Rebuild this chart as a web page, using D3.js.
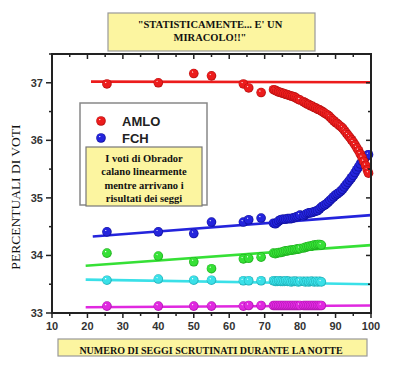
<!DOCTYPE html>
<html>
<head>
<meta charset="utf-8">
<script src="https://cdn.jsdelivr.net/npm/d3@7"></script>
<style>
  body { margin: 0; background: #fff; }
  svg { display: block; }
</style>
</head>
<body>
<script>
// seats counted (x) -- first sparse readings, then the dense night run
var seggiBase = [25.5, 40, 50, 55, 64, 65.5, 69];
var seggiNotte = [72.5, 73, 73.5, 74, 74.5, 75, 75.5, 76, 76.5, 77, 77.5, 78, 78.5, 79, 79.5,
  80, 81, 81.5, 82, 82.5, 83, 83.5, 84, 84.5, 85, 85.5, 86];
var seggiFine = [86.5, 87, 87.5, 88, 88.5, 89, 89.5, 90, 90.5, 91, 91.5, 92, 92.5, 93, 93.5,
  94, 94.5, 95, 95.5, 96, 96.5, 97, 97.5, 98, 98.5, 99, 99.3];

// AMLO (red)
var amloBase = [36.98, 37.0, 37.16, 37.12, 36.98, 36.91, 36.83];
var amloNotte = [36.88, 36.87, 36.85, 36.84, 36.83, 36.82, 36.81, 36.80, 36.79, 36.78, 36.77, 36.76,
  36.75, 36.73, 36.71, 36.70, 36.67, 36.65, 36.63, 36.62, 36.60, 36.59, 36.57, 36.56, 36.54, 36.53, 36.51];
var amloFine = [36.49, 36.47, 36.45, 36.43, 36.40, 36.37, 36.34, 36.31, 36.29, 36.26, 36.24, 36.21,
  36.17, 36.13, 36.09, 36.05, 36.01, 35.97, 35.92, 35.87, 35.82, 35.76, 35.70, 35.63, 35.56, 35.48, 35.43];

// FCH (blue)
var fchBase = [34.41, 34.41, 34.38, 34.58, 34.58, 34.62, 34.65];
var fchNotte = [34.56, 34.55, 34.57, 34.60, 34.62, 34.63, 34.63, 34.63, 34.64, 34.64, 34.64, 34.65,
  34.66, 34.67, 34.68, 34.70, 34.69, 34.71, 34.73, 34.74, 34.74, 34.75, 34.76, 34.77, 34.78, 34.81, 34.84];
var fchFine = [34.86, 34.88, 34.90, 34.93, 34.96, 34.99, 35.02, 35.05, 35.07, 35.09, 35.12, 35.15,
  35.19, 35.23, 35.27, 35.31, 35.35, 35.39, 35.44, 35.49, 35.54, 35.59, 35.64, 35.68, 35.71, 35.74, 35.75];

// the three minor candidates
var verdeBase = [34.04, 33.99, 33.89, 33.77, 33.94, 33.95, 33.97];
var verdeNotte = [34.04, 34.03, 34.04, 34.05, 34.05, 34.06, 34.07, 34.08, 34.08, 34.09, 34.09, 34.10,
  34.10, 34.11, 34.11, 34.12, 34.13, 34.14, 34.15, 34.16, 34.16, 34.17, 34.18, 34.18, 34.19, 34.19, 34.18];
var cianoBase = [33.57, 33.59, 33.57, 33.57, 33.56, 33.56, 33.56];
var cianoNotte = [33.56, 33.55, 33.55, 33.56, 33.55, 33.55, 33.55, 33.56, 33.55, 33.55, 33.54, 33.55,
  33.55, 33.55, 33.54, 33.55, 33.55, 33.54, 33.55, 33.54, 33.55, 33.55, 33.54, 33.55, 33.54, 33.55, 33.54];
var magentaBase = [33.12, 33.12, 33.12, 33.12, 33.12, 33.13, 33.13];
var magentaNotte = [33.13, 33.13, 33.13, 33.13, 33.13, 33.13, 33.13, 33.13, 33.13, 33.13, 33.13, 33.13,
  33.13, 33.13, 33.13, 33.13, 33.13, 33.13, 33.13, 33.13, 33.13, 33.13, 33.13, 33.13, 33.13, 33.13, 33.13];

// linear fits (start x, end x) and (start y, end y)
var fitAmlo = [[21, 37.02], [100, 37.01]];
var fitFch = [[21.5, 34.33], [100, 34.70]];
var fitVerde = [[19.5, 33.82], [100, 34.18]];
var fitCiano = [[19.5, 33.58], [100, 33.50]];
var fitMagenta = [[19.5, 33.10], [100, 33.13]];

var xTicks = [10, 20, 30, 40, 50, 60, 70, 80, 90, 100];
var yTicks = [33, 34, 35, 36, 37];

var titolo = ["\"STATISTICAMENTE... E' UN", "MIRACOLO!!\""];
var nota = ["I voti di Obrador", "calano linearmente", "mentre arrivano i", "risultati dei seggi"];
var etichettaX = "NUMERO DI SEGGI SCRUTINATI DURANTE LA NOTTE";
var etichettaY = "PERCENTUALI DI VOTI";

var W = 405, H = 366;
var svg = d3.select("body").append("svg").attr("width", W).attr("height", H);

var x = d3.scaleLinear().domain([10, 100]).range([52, 371]);
var y = d3.scaleLinear().domain([33, 37.5]).range([313, 54]);

var zip = function(xs, ys){ return xs.map(function(v, i){ return [v, ys[i]]; }); };

var serie = [
  {nome: "magenta", col: "#e028e0", dark: "#a812a8", fit: fitMagenta,
    pts: zip(seggiBase.concat(seggiNotte), magentaBase.concat(magentaNotte))},
  {nome: "ciano", col: "#3ae0e8", dark: "#1aa8b0", fit: fitCiano,
    pts: zip(seggiBase.concat(seggiNotte), cianoBase.concat(cianoNotte))},
  {nome: "verde", col: "#36e036", dark: "#18a818", fit: fitVerde,
    pts: zip(seggiBase.concat(seggiNotte), verdeBase.concat(verdeNotte))},
  {nome: "blu", col: "#2424dc", dark: "#0c0c98", fit: fitFch,
    pts: zip(seggiBase.concat(seggiNotte, seggiFine), fchBase.concat(fchNotte, fchFine))},
  {nome: "rosso", col: "#ec1c1c", dark: "#b00c0c", fit: fitAmlo,
    pts: zip(seggiBase.concat(seggiNotte, seggiFine), amloBase.concat(amloNotte, amloFine))}
];

// shaded balls
var defs = svg.append("defs");
serie.forEach(function(s){
  var g = defs.append("radialGradient").attr("id", "g-" + s.nome)
    .attr("cx", "50%").attr("cy", "50%").attr("r", "50%")
    .attr("fx", "35%").attr("fy", "32%");
  g.append("stop").attr("offset", "0%").attr("stop-color", "#ffffff");
  g.append("stop").attr("offset", "22%").attr("stop-color", s.col);
  g.append("stop").attr("offset", "75%").attr("stop-color", s.col);
  g.append("stop").attr("offset", "100%").attr("stop-color", s.dark);
});

// fit lines
var line = d3.line().x(function(d){ return x(d[0]); }).y(function(d){ return y(d[1]); });
svg.selectAll(".fit").data(serie).enter().append("path")
  .attr("class", "fit")
  .attr("d", function(d){ return line(d.fit); })
  .attr("stroke", function(d){ return d.col; })
  .attr("stroke-width", 2.6)
  .attr("fill", "none");

// points
serie.forEach(function(s){
  svg.append("g").selectAll("circle").data(s.pts).enter().append("circle")
    .attr("cx", function(d){ return x(d[0]); })
    .attr("cy", function(d){ return y(d[1]); })
    .attr("r", 4.8)
    .attr("fill", "url(#g-" + s.nome + ")");
});

// frame + axes
var ink = "#222";
var ax = svg.append("g").attr("font-family", "Liberation Sans, Arial, sans-serif")
  .attr("font-weight", "bold").attr("font-size", 11).attr("fill", "#333");
ax.append("rect").attr("x", 52).attr("y", 54).attr("width", 319).attr("height", 259)
  .attr("fill", "none").attr("stroke", ink).attr("stroke-width", 2);

var xMinor = d3.range(10, 100.1, 5);
var yMinor = d3.range(33, 37.51, 0.5);
ax.selectAll(".xt").data(xMinor).enter().append("line")
  .attr("x1", function(d){ return x(d); }).attr("x2", function(d){ return x(d); })
  .attr("y1", 313).attr("y2", function(d){ return d % 10 === 0 ? 318 : 316; })
  .attr("stroke", ink).attr("stroke-width", 1.5);
ax.selectAll(".xtt").data(xMinor).enter().append("line")
  .attr("x1", function(d){ return x(d); }).attr("x2", function(d){ return x(d); })
  .attr("y1", 54).attr("y2", function(d){ return d % 10 === 0 ? 59 : 57; })
  .attr("stroke", ink).attr("stroke-width", 1.5);
ax.selectAll(".yt").data(yMinor).enter().append("line")
  .attr("y1", function(d){ return y(d); }).attr("y2", function(d){ return y(d); })
  .attr("x1", 52).attr("x2", function(d){ return d % 1 === 0 ? 46 : 49; })
  .attr("stroke", ink).attr("stroke-width", 1.5);
ax.selectAll(".ytr").data(yMinor).enter().append("line")
  .attr("y1", function(d){ return y(d); }).attr("y2", function(d){ return y(d); })
  .attr("x1", 371).attr("x2", function(d){ return d % 1 === 0 ? 366 : 368; })
  .attr("stroke", ink).attr("stroke-width", 1.5);

ax.selectAll(".xl").data(xTicks).enter().append("text")
  .attr("x", function(d){ return x(d); }).attr("y", 330)
  .attr("text-anchor", "middle").text(function(d){ return d; });
ax.selectAll(".yl").data(yTicks).enter().append("text")
  .attr("x", 43).attr("y", function(d){ return y(d) + 4; })
  .attr("text-anchor", "end").text(function(d){ return d; });

// y label
svg.append("text")
  .attr("transform", "translate(20,197) rotate(-90)")
  .attr("text-anchor", "middle")
  .attr("font-family", "Liberation Serif, Times New Roman, serif")
  .attr("font-size", 13.5).attr("fill", "#111")
  .text(etichettaY);

// title box
var giallo = "#fcf5a0";
svg.append("rect").attr("x", 108).attr("y", 13).attr("width", 207).attr("height", 38)
  .attr("fill", giallo).attr("stroke", "#999").attr("stroke-width", 1.2);
svg.selectAll(".tit").data(titolo).enter().append("text")
  .attr("x", 210).attr("y", function(d, i){ return 28 + i * 13; })
  .attr("text-anchor", "middle")
  .attr("font-family", "Liberation Serif, Times New Roman, serif")
  .attr("font-weight", "bold").attr("font-size", 10.5).attr("fill", "#111")
  .text(function(d){ return d; });

// x label box
svg.append("rect").attr("x", 58).attr("y", 339).attr("width", 309).attr("height", 17)
  .attr("fill", giallo).attr("stroke", "#999").attr("stroke-width", 1.2);
svg.append("text").attr("x", 211).attr("y", 354).attr("text-anchor", "middle")
  .attr("font-family", "Liberation Serif, Times New Roman, serif")
  .attr("font-weight", "bold").attr("font-size", 10).attr("fill", "#111")
  .text(etichettaX);

// legend
svg.append("rect").attr("x", 80).attr("y", 103).attr("width", 127).attr("height", 102)
  .attr("fill", "#fff").attr("stroke", "#888").attr("stroke-width", 1.5);
var leg = [{nome: "rosso", t: "AMLO", yy: 121}, {nome: "blu", t: "FCH", yy: 138}];
svg.selectAll(".lb").data(leg).enter().append("circle")
  .attr("cx", 101).attr("cy", function(d){ return d.yy; }).attr("r", 4.8)
  .attr("fill", function(d){ return "url(#g-" + d.nome + ")"; });
svg.selectAll(".lt").data(leg).enter().append("text")
  .attr("x", 122).attr("y", function(d){ return d.yy + 5; })
  .attr("font-family", "Liberation Sans, Arial, sans-serif")
  .attr("font-weight", "bold").attr("font-size", 13).attr("fill", "#222")
  .text(function(d){ return d.t; });

// callout
svg.append("rect").attr("x", 86).attr("y", 147).attr("width", 116).attr("height", 59)
  .attr("fill", giallo).attr("stroke", "#777").attr("stroke-width", 1.2);
svg.selectAll(".nt").data(nota).enter().append("text")
  .attr("x", 144).attr("y", function(d, i){ return 162 + i * 13.3; })
  .attr("text-anchor", "middle")
  .attr("font-family", "Liberation Serif, Times New Roman, serif")
  .attr("font-weight", "bold").attr("font-size", 10.5).attr("fill", "#111")
  .text(function(d){ return d; });
</script>
</body>
</html>
